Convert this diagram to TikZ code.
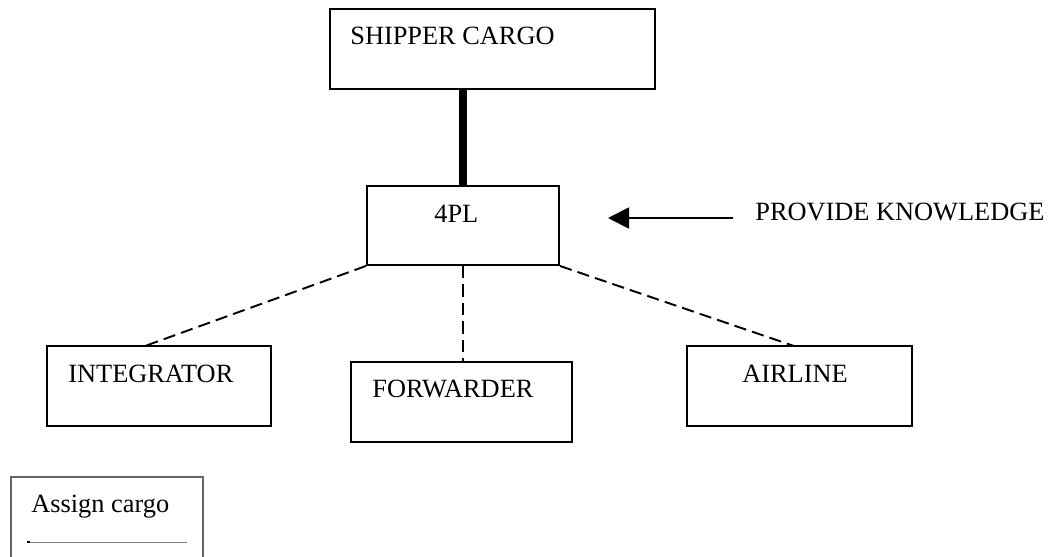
\documentclass[tikz,border=0pt]{standalone}
\usepackage{fontspec}
\setmainfont{Liberation Serif}
\usetikzlibrary{arrows.meta}

\tikzset{
  box/.style={draw, line width=1.1pt, inner sep=0pt},
  lbl/.style={anchor=base west, inner sep=0pt, font=\fontsize{15}{18}\selectfont},
  link/.style={line width=1.1pt, dash pattern=on 7pt off 3.5pt}
}

\begin{document}
\begin{tikzpicture}[x=0.02cm, y=-0.02cm]
    \clip (0,0) rectangle (1048,557);

    \node[box, minimum width=325*0.02cm, minimum height=80*0.02cm] (shipper) at (492.5,49) {};
    \node[box, minimum width=192*0.02cm, minimum height=79*0.02cm] (fourpl) at (463,225.5) {};
    \node[box, minimum width=224*0.02cm, minimum height=80*0.02cm] (integrator) at (159,386) {};
    \node[box, minimum width=221*0.02cm, minimum height=80*0.02cm] (forwarder) at (461.5,402) {};
    \node[box, minimum width=225*0.02cm, minimum height=80*0.02cm] (airline) at (799.5,386) {};
    \node[draw, line width=0.9pt, gray!80!black, minimum width=192*0.02cm, minimum height=140*0.02cm] (legend) at (107,547) {};

    \node[lbl] (shippertxt) at (350,45) {SHIPPER CARGO};
    \node[lbl] (fourpltxt) at (434,223) {4PL};
    \node[lbl] (knowtxt) at (755,221) {PROVIDE KNOWLEDGE};
    \node[lbl] (integratortxt) at (68,382) {INTEGRATOR};
    \node[lbl] (forwardertxt) at (372,397) {FORWARDER};
    \node[lbl] (airlinetxt) at (742,382) {AIRLINE};
    \node[lbl] (legendtxt) at (31,512) {Assign cargo};

    \draw[line width=4pt] (shipper.south -| fourpl.north) -- (fourpl.north);

    \coordinate (intop) at (145,346);
    \coordinate (airtop) at (794,346);
    \draw[link] (fourpl.south west) -- (intop);
    \draw[link] (fourpl.south) -- (fourpl.south |- forwarder.north);
    \draw[link] (fourpl.south east) -- (airtop);

    \coordinate (arrowstart) at (733,218);
    \coordinate (arrowtip) at (608,218);
    \draw[line width=1.1pt, -{Triangle[length=12pt, width=12pt]}] (arrowstart) -- (arrowtip);

    \draw[gray, line width=0.4pt] (30,542) -- (187,542);
    \draw[line width=0.8pt] (27,542) -- (30,542);
\end{tikzpicture}
\end{document}
